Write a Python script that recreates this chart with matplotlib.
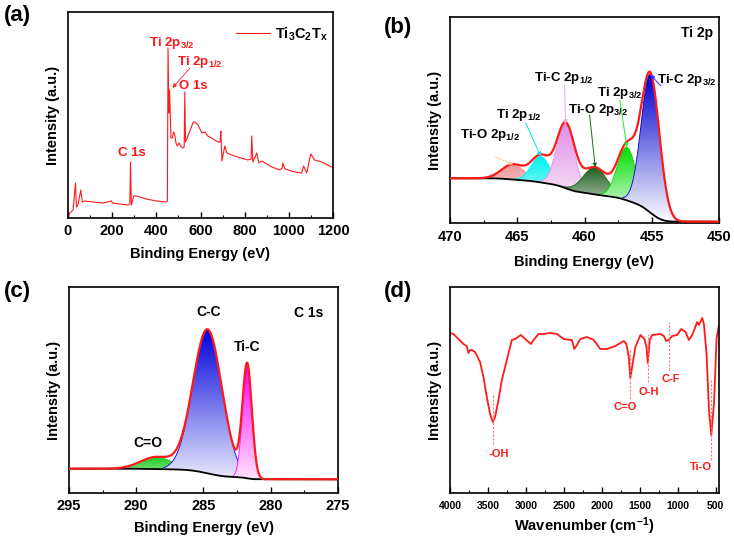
import numpy as np
import matplotlib
matplotlib.use('Agg')
import matplotlib.pyplot as plt
from matplotlib.patches import Polygon
from matplotlib.ticker import MultipleLocator
from matplotlib.colors import to_rgb

plt.rcParams['font.family'] = ['Liberation Sans', 'DejaVu Sans']
plt.rcParams['font.weight'] = 'bold'
plt.rcParams['mathtext.fontset'] = 'custom'
plt.rcParams['mathtext.rm'] = 'Liberation Sans:bold'
plt.rcParams['mathtext.it'] = 'Liberation Sans:bold'
plt.rcParams['mathtext.bf'] = 'Liberation Sans:bold'
plt.rcParams['axes.linewidth'] = 1.2

# ---------------- (a) XPS survey ----------------
survey_be = [0, 8, 23, 34, 38, 45, 58, 65, 76, 113, 159, 197, 201, 234, 272, 280, 283, 287,
             298, 310, 355, 400, 446, 450, 453, 457, 460, 466, 472, 478, 483, 489, 495, 503,
             510, 518, 526, 529, 532, 540, 550, 559, 567, 574, 589, 606, 620, 633, 650, 678,
             689, 692, 697, 710, 719, 741, 769, 814, 829, 832, 837, 855, 864, 878, 923, 959,
             970, 973, 982, 1027, 1058, 1067, 1081, 1099, 1117, 1149, 1194, 1200]
survey_int = [1, 5, 8, 35, 11, 13, 28, 16, 17, 16, 15, 17, 15, 14, 13, 14, 56, 13,
              22, 22, 19, 17, 16, 17, 170, 105, 128, 80, 80, 86, 84, 75, 72, 75,
              72, 70, 71, 126, 76, 80, 86, 91, 96, 96, 93, 85, 86, 82, 80, 76,
              76, 87, 57, 72, 65, 63, 61, 58, 59, 82, 56, 65, 55, 57, 51, 48,
              50, 55, 49, 46, 45, 52, 45, 64, 58, 56, 51, 50]
survey_peak_labels = ['Ti 2p$_{3/2}$', 'Ti 2p$_{1/2}$', 'O 1s', 'C 1s']

# ---------------- (b) Ti 2p ----------------
ti_names = ['Ti-O 2p$_{1/2}$', 'Ti 2p$_{1/2}$', 'Ti-C 2p$_{1/2}$',
            'Ti-O 2p$_{3/2}$', 'Ti 2p$_{3/2}$', 'Ti-C 2p$_{3/2}$']
ti_center = [465.3, 463.25, 461.4, 459.2, 456.85, 455.1]
ti_height = [15, 26, 64, 27, 53, 138]
ti_fwhm = [2.0, 1.65, 1.55, 2.1, 1.65, 1.6]
ti_colors = ['#EE9A9A', '#00F0F0', '#E08FE6', '#1E5E1E', '#00DD00', '#0000CC']
ti_arrow_colors = ['#F5C9A0', '#00E5EE', '#E6A8EE', '#1E6B1E', '#30E030', '#3030FF']
ti_bg_high, ti_bg_low = 44.7, 1.3

# ---------------- (c) C 1s ----------------
c_names = ['C=O', 'C-C', 'Ti-C']
c_center = [288.5, 284.7, 281.75]
c_height = [12, 144, 112]
c_fwhm = [2.8, 2.55, 0.82]
c_colors = ['#22CC22', '#0000DD', '#FF00FF']
c_bg_high, c_bg_low = 24.3, 13.7

# ---------------- (d) FTIR ----------------
ftir_wn = [4000, 3955, 3889, 3823, 3780, 3757, 3735, 3713, 3670, 3604, 3559, 3515, 3472, 3436,
           3406, 3361, 3317, 3251, 3185, 3141, 3066, 3009, 2934, 2899, 2833, 2767, 2680, 2591,
           2502, 2393, 2362, 2327, 2283, 2195, 2106, 2019, 1930, 1821, 1710, 1676, 1644, 1623,
           1600, 1557, 1491, 1438, 1411, 1393, 1367, 1336, 1227, 1182, 1152, 1116, 1072, 1006,
           953, 896, 852, 808, 742, 720, 676, 654, 619, 587, 557, 521, 487, 455]
ftir_t = [160, 159, 154, 149, 147, 140, 143, 143, 141, 131, 116, 96, 79, 71,
          76, 93, 113, 133, 153, 154, 158, 154, 149, 153, 159, 159, 160, 159,
          154, 153, 144, 148, 154, 156, 153, 144, 144, 147, 152, 149, 136, 115,
          126, 146, 158, 154, 146, 130, 153, 158, 159, 157, 152, 153, 157, 158,
          164, 161, 153, 158, 171, 168, 175, 169, 139, 83, 58, 89, 155, 168]
band_pos = [3427, 1623, 1393, 1116, 566]
band_labels = ['-OH', 'C=O', 'O-H', 'C-F', 'Ti-O']

RED = '#FF1A1A'
W, H = 734, 539
fig = plt.figure(figsize=(W / 100, H / 100), dpi=100)


def px_axes(l, t, r, b):
    return fig.add_axes([l / W, 1 - b / H, (r - l) / W, (b - t) / H])


def style_axes(ax, major, minor, tsize=10.5, pad=3):
    ax.set_yticks([])
    ax.xaxis.set_major_locator(MultipleLocator(major))
    ax.xaxis.set_minor_locator(MultipleLocator(minor))
    ax.tick_params(axis='x', which='major', direction='in', length=4, width=1.0,
                   labelsize=tsize, pad=pad)
    ax.tick_params(axis='x', which='minor', direction='in', length=2.5, width=0.8)
    for lab in ax.get_xticklabels():
        lab.set_fontweight('bold')


def gauss(x, c, h, fwhm):
    s = fwhm / (2 * np.sqrt(2 * np.log(2)))
    return h * np.exp(-0.5 * ((x - c) / s) ** 2)


def grad_fill(ax, x, ybot, ytop, color, z):
    verts = np.concatenate([np.column_stack([x, ytop]), np.column_stack([x[::-1], ybot[::-1]])])
    patch = Polygon(verts, closed=True, facecolor='none', edgecolor='none')
    ax.add_patch(patch)
    rgb = np.array(to_rgb(color))
    t = np.linspace(0, 1, 256)[:, None]
    img = (1 - t) * np.ones(3) + t * rgb
    img = img[:, None, :]
    im = ax.imshow(img, extent=[x.min(), x.max(), 0, ytop.max()], origin='lower',
                   aspect='auto', zorder=z, interpolation='bilinear')
    im.set_clip_path(patch)


def xps_panel(ax, xlo, xhi, centers, heights, fwhms, colors, bg_hi, bg_lo):
    x = np.linspace(xlo, xhi, 1500)
    comps = [gauss(x, c, h, w) for c, h, w in zip(centers, heights, fwhms)]
    total = np.sum(comps, axis=0)
    cum = np.cumsum(total)
    bg = bg_lo + (bg_hi - bg_lo) * cum / cum[-1]
    for i, (g, col) in enumerate(zip(comps, colors)):
        m = g > 0.01 * g.max()
        grad_fill(ax, x[m], bg[m], (bg + g)[m], col, 2 + i)
        ax.plot(x[m], (bg + g)[m], color=col, lw=0.6, zorder=2.5 + i)
    ax.plot(x, bg, color='black', lw=1.3, zorder=20)
    ax.plot(x, bg + total, color=RED, lw=1.6, zorder=21)
    tops = [np.interp(c, x, bg) + h for c, h in zip(centers, heights)]
    return tops


# ---------------- panel (a) ----------------
axa = px_axes(68, 12, 333, 218)
axa.plot(survey_be, survey_int, color=RED, lw=0.8, label='Ti$_3$C$_2$T$_x$')
axa.set_xlim(0, 1200)
axa.set_ylim(0, 206)
style_axes(axa, 200, 100, pad=4)
axa.set_xlabel('Binding Energy (eV)', fontsize=10.5, fontweight='bold', labelpad=7)
axa.set_ylabel('Intensity (a.u.)', fontsize=10.5, fontweight='bold', labelpad=6)
leg = axa.legend(loc='upper left', bbox_to_anchor=(0.635, 0.935), frameon=False,
                 handlelength=2.3, handletextpad=0.35, borderpad=0, borderaxespad=0,
                 prop={'size': 10.5, 'weight': 'bold'})
kw = dict(color=RED, fontsize=9.5, fontweight='bold', ha='center', va='center')
axa.text(470, 175, survey_peak_labels[0], **kw)
axa.text(595, 156, survey_peak_labels[1], **kw)
axa.annotate('', xy=(465, 128), xytext=(560, 152),
             arrowprops=dict(arrowstyle='-|>', color=RED, lw=0.6, mutation_scale=6))
axa.text(567, 132, survey_peak_labels[2], **kw)
axa.text(289, 65, survey_peak_labels[3], **kw)

# ---------------- panel (b) ----------------
axb = px_axes(450, 17, 719, 223)
tops_b = xps_panel(axb, 450, 470, ti_center, ti_height, ti_fwhm, ti_colors, ti_bg_high, ti_bg_low)
axb.set_xlim(470, 450)
axb.set_ylim(0, 206)
style_axes(axb, 5, 2.5, pad=5)
axb.set_xlabel('Binding Energy (eV)', fontsize=10.5, fontweight='bold', labelpad=8)
axb.set_ylabel('Intensity (a.u.)', fontsize=10.5, fontweight='bold', labelpad=6)
axb.text(451.6, 190, 'Ti 2p', fontsize=10, fontweight='bold', ha='center', va='center')
label_pos_b = [(467.0, 88), (464.85, 108), (461.55, 145), (459.0, 113), (457.4, 130), (452.36, 143)]
arrow_start_b = [(466.62, 66), (464.37, 100), (461.49, 138), (459.62, 108), (457.37, 123), (454.32, 137)]
for i in range(6):
    axb.text(*label_pos_b[i], ti_names[i], fontsize=9.5, fontweight='bold', ha='center',
             va='center', zorder=30)
    axb.annotate('', xy=(ti_center[i], tops_b[i]), xytext=arrow_start_b[i], zorder=30,
                 arrowprops=dict(arrowstyle='-|>', color=ti_arrow_colors[i], lw=0.7,
                                 mutation_scale=6, shrinkA=0, shrinkB=0))

# ---------------- panel (c) ----------------
axc = px_axes(69, 287, 338, 493)
tops_c = xps_panel(axc, 275, 295, c_center, c_height, c_fwhm, c_colors, c_bg_high, c_bg_low)
axc.set_xlim(295, 275)
axc.set_ylim(0, 206)
style_axes(axc, 5, 2.5, pad=4)
axc.set_xlabel('Binding Energy (eV)', fontsize=10.5, fontweight='bold', labelpad=6)
axc.set_ylabel('Intensity (a.u.)', fontsize=10.5, fontweight='bold', labelpad=6)
axc.text(277.2, 180, 'C 1s', fontsize=10, fontweight='bold', ha='center', va='center')
label_pos_c = [(289.15, 50), (284.65, 181), (281.72, 146)]
for i in range(3):
    axc.text(*label_pos_c[i], c_names[i], fontsize=10, fontweight='bold', ha='center',
             va='center', zorder=30)

# ---------------- panel (d) ----------------
axd = px_axes(450, 287, 719, 493)
axd.plot(ftir_wn, ftir_t, color=RED, lw=1.3)
axd.set_xlim(4000, 455)
axd.set_ylim(0, 206)
style_axes(axd, 500, 250, tsize=7.5, pad=6)
axd.set_xlabel('Wavenumber (cm$^{-1}$)', fontsize=10.5, fontweight='bold', labelpad=3)
axd.set_ylabel('Intensity (a.u.)', fontsize=10.5, fontweight='bold', labelpad=6)
band_span = [(49, 98), (94, 144), (111, 159), (123, 171), (33, 114)]
band_text = [(3361, 39), (1689, 86), (1380, 101), (1095, 114), (698, 26)]
for i in range(5):
    axd.plot([band_pos[i], band_pos[i]], band_span[i], color='#FF7070', lw=0.8,
             ls=(0, (2, 1.5)))
    axd.text(*band_text[i], band_labels[i], color=RED, fontsize=8, fontweight='bold',
             ha='center', va='center')

# panel letters
for lab, (px, py) in zip(['(a)', '(b)', '(c)', '(d)'], [(17, 16), (398, 27), (17, 292), (398, 292)]):
    fig.text(px / W, 1 - py / H, lab, fontsize=16, fontweight='bold', ha='center', va='center')

fig.savefig('out.png', dpi=100)
